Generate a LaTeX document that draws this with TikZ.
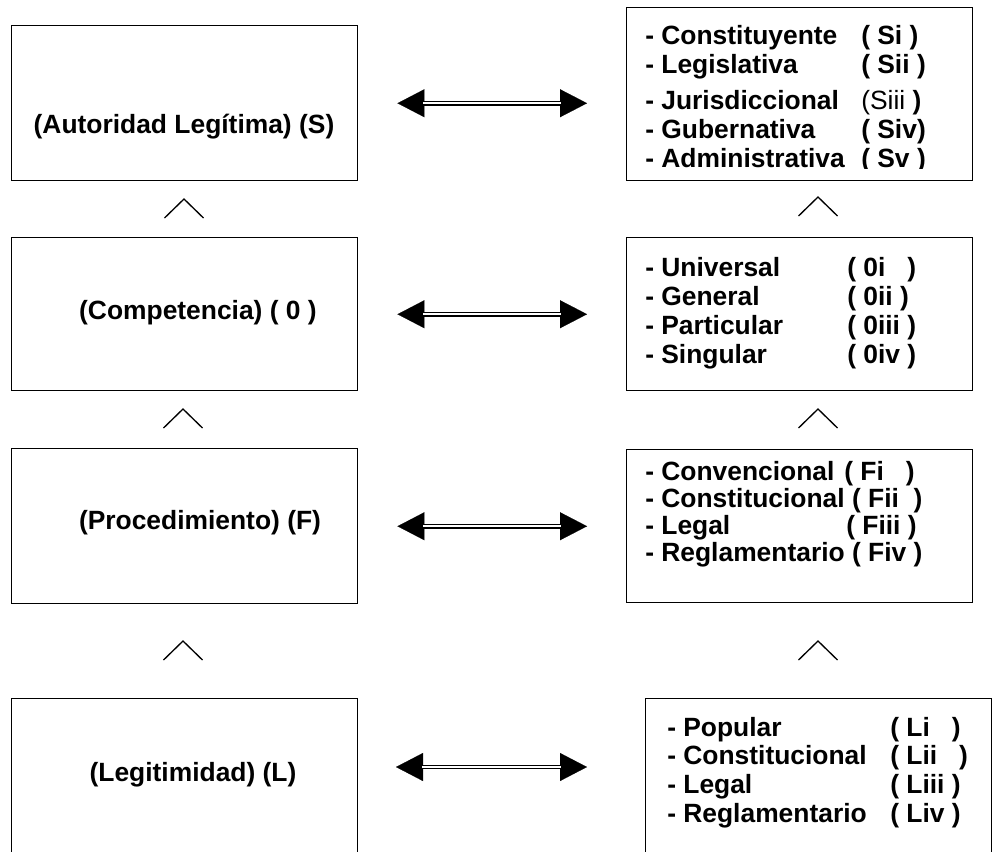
\documentclass[tikz,border=0pt]{standalone}
\usepackage{fontspec}
\setmainfont{Liberation Sans}
\usepackage{tikz}
\usetikzlibrary{arrows.meta}

\begin{document}
\begin{tikzpicture}[x=0.75pt, y=-0.75pt,
  every node/.style={font=\fontsize{19.8}{22.5}\selectfont\bfseries},
  box/.style={draw, line width=1.1pt, anchor=north west, inner sep=0pt, minimum width=259.5pt},
  listtext/.style={anchor=north west, inner sep=0pt, align=left},
  twoway/.style={line width=0.9pt, double distance=1.8pt, shorten <=19.5pt, shorten >=19.5pt},
  heads/.style={line width=0.1pt, {Triangle[length=20.25pt, width=21pt]}-{Triangle[length=20.25pt, width=21pt]}},
  caret/.style={line width=1pt}]
  \useasboundingbox (0,0) rectangle (999,851);
  \clip (0,0) rectangle (999,851);

  % left column
  \node[box, minimum height=116.25pt] (auth) at (11,25) {};
  \node[box, minimum height=114.75pt] (comp) at (11,237) {};
  \node[box, minimum height=116.25pt] (proc) at (11,448) {};
  \node[box, minimum height=127.5pt] (legit) at (11,698) {};
  \node (authT) at (184,127) {(Autoridad Legítima) (S)};
  \node (compT) at (198,313) {(Competencia) ( 0 )};
  \node (procT) at (200,523) {(Procedimiento) (F)};
  \node (legitT) at (193,775) {(Legitimidad) (L)};

  % right column
  \node[box, minimum height=129.75pt] (authL) at (626,7) {};
  \node[box, minimum height=114.75pt] (compL) at (626,237) {};
  \node[box, minimum height=114.75pt] (procL) at (626,449) {};
  \node[box, minimum height=127.5pt] (legitL) at (645,698) {};

  \begin{scope}
    \clip (626,7) rectangle (972,168);
    \node[listtext, font=\fontsize{19.8}{22}\selectfont\bfseries] (authItems) at (645,25) {%
      \makebox[162pt][l]{- Constituyente}( Si )\\
      \makebox[162pt][l]{- Legislativa}( Sii )\\[4.5pt]
      \makebox[162pt][l]{- Jurisdiccional}{\mdseries(Siii} )\\
      \makebox[162pt][l]{- Gubernativa}( Siv)\\
      \makebox[162pt][l]{- Administrativa}( Sv )};
  \end{scope}
  \node[listtext, font=\fontsize{19.8}{21.75}\selectfont\bfseries] (compItems) at (645,257) {%
    \makebox[151.5pt][l]{- Universal}( 0i~~ )\\
    \makebox[151.5pt][l]{- General}( 0ii )\\
    \makebox[151.5pt][l]{- Particular}( 0iii )\\
    \makebox[151.5pt][l]{- Singular}( 0iv )};
  \node[listtext, font=\fontsize{19.8}{20.25}\selectfont\bfseries] (procItems) at (645,461) {%
    \makebox[149.25pt][l]{- Convencional}( Fi~~ )\\
    - Constitucional ( Fii~ )\\
    \makebox[150.75pt][l]{- Legal}( Fiii )\\
    - Reglamentario ( Fiv )};
  \node[listtext, font=\fontsize{19.8}{21.4}\selectfont\bfseries] (legitItems) at (667,717) {%
    \makebox[167.25pt][l]{- Popular}( Li~~ )\\
    \makebox[167.25pt][l]{- Constitucional}( Lii~~ )\\
    \makebox[167.25pt][l]{- Legal}( Liii )\\
    \makebox[167.25pt][l]{- Reglamentario}( Liv )};

  % two-way arrows
  \coordinate (lgA) at (396,767);
  \coordinate (lgB) at (587,767);
  \foreach \a/\b in {auth/authL, comp/compL, proc/procL} {
    \draw[heads] ([xshift=29.25pt]\a.east) -- ([xshift=-29.25pt]\b.west |- \a.east);
    \draw[twoway] ([xshift=29.25pt]\a.east) -- ([xshift=-29.25pt]\b.west |- \a.east);
  }
  \draw[heads] (lgA) -- (lgB);
  \draw[twoway] (lgA) -- (lgB);

  % carets
  \foreach \x/\y in {184/199, 818/197, 183/409, 818/409, 183/641, 818/641}
    \draw[caret] (\x-19.5,\y+19) -- (\x,\y) -- (\x+19.5,\y+19);
\end{tikzpicture}
\end{document}
